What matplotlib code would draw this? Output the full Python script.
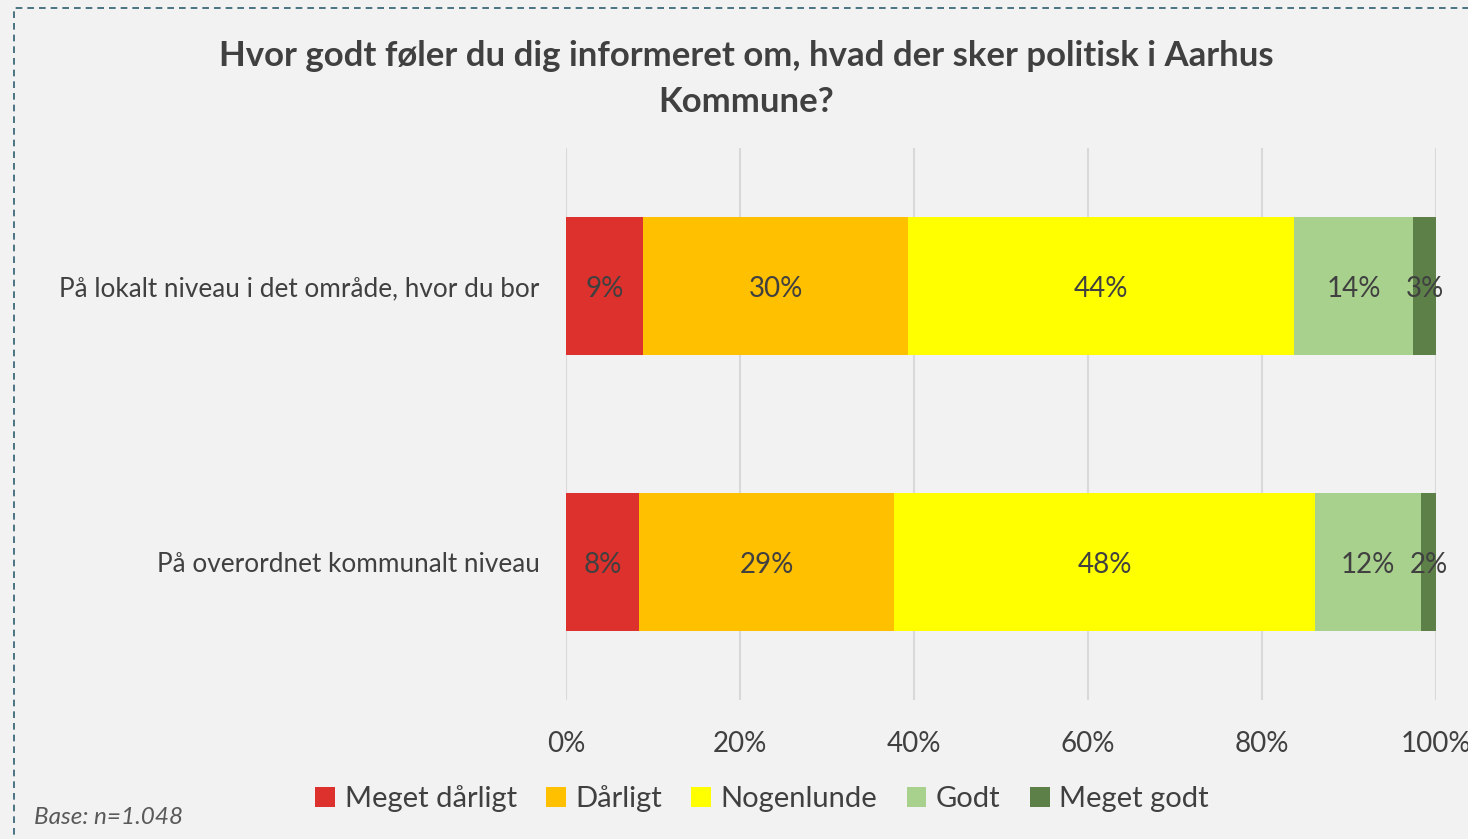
import matplotlib.pyplot as plt
from matplotlib.patches import Rectangle, Patch

plt.rcParams['font.family'] = ['Lato', 'DejaVu Sans']

title = 'Hvor godt føler du dig informeret om, hvad der sker politisk i Aarhus\nKommune?'
rows = ['På lokalt niveau i det område, hvor du bor', 'På overordnet kommunalt niveau']
answers = ['Meget dårligt', 'Dårligt', 'Nogenlunde', 'Godt', 'Meget godt']
shares = [
    [8.9, 8.4],    # Meget dårligt
    [30.4, 29.3],  # Dårligt
    [44.4, 48.4],  # Nogenlunde
    [13.7, 12.2],  # Godt
    [2.6, 1.7],    # Meget godt
]
colors = ['#DC312C', '#FFC000', '#FFFF00', '#A9D18E', '#5D8049']
txt = '#404040'
bg = '#F2F2F2'
fs = 20

fig = plt.figure(figsize=(14.68, 8.39), dpi=100, facecolor=bg)
ax = fig.add_axes([566 / 1468, 1 - 700 / 839, 870 / 1468, 552 / 839])
ax.set_facecolor(bg)

left = [0, 0]
ypos = list(range(len(rows)))
for vals, col in zip(shares, colors):
    ax.barh(ypos, vals, left=left, height=0.5, color=col, zorder=2)
    for y, v, l in zip(ypos, vals, left):
        ax.text(l + v / 2, y + 0.012, '%.0f%%' % v, ha='center', va='center',
                fontsize=fs, color=txt, zorder=3)
    left = [a + b for a, b in zip(left, vals)]

ax.set_xlim(0, 100)
ax.set_ylim(1.5, -0.5)
ax.set_xticks(range(0, 101, 20))
ax.set_xticklabels(['%d%%' % t for t in range(0, 101, 20)])
ax.set_yticks(ypos)
ax.set_yticklabels(rows)
ax.tick_params(axis='both', length=0, labelcolor=txt)
ax.tick_params(axis='x', pad=22, labelsize=fs)
ax.tick_params(axis='y', pad=19, labelsize=18.8)
ax.grid(axis='x', color='#D9D9D9', linewidth=1.5, zorder=0)
for s in ax.spines.values():
    s.set_visible(False)

fig.text(746 / 1468, 1 - 79 / 839, title, ha='center', va='center',
         fontsize=25, fontweight='bold', color=txt, linespacing=1.5)

handles = [Patch(facecolor=c, edgecolor='none', label=a) for a, c in zip(answers, colors)]
fig.legend(handles=handles, loc='center', bbox_to_anchor=(762 / 1468, 1 - 799 / 839),
           ncol=5, frameon=False, fontsize=21, labelcolor=txt,
           handlelength=0.68, handleheight=0.68, handletextpad=0.33, columnspacing=1.0)

fig.text(34 / 1468, 1 - 818 / 839, 'Base: n=1.048', ha='left', va='center',
         fontsize=17.5, style='italic', color='#595959')

# dashed chart border
fig.add_artist(Rectangle((14 / 1468, -0.05), 1.2, 1 - 8 / 839 + 0.05,
                         transform=fig.transFigure, fill=False,
                         edgecolor='#2E5E6E', linestyle=(0, (4, 3)), linewidth=1.2))

fig.savefig('out.png', dpi=100, facecolor=bg)
